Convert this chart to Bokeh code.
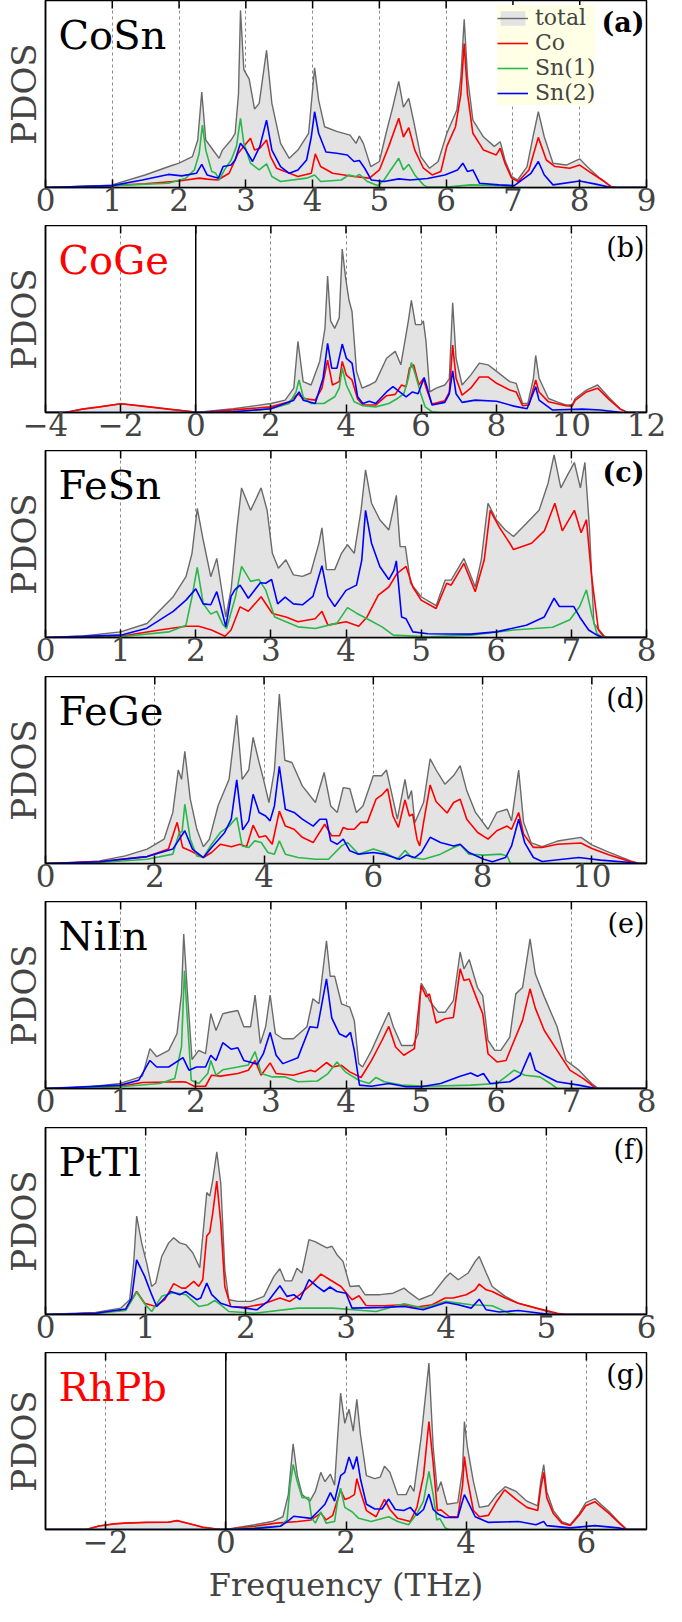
import math
from bokeh.plotting import figure
from bokeh.layouts import column
from bokeh.models import Range1d, Span, Label, Legend, LegendItem, FixedTicker
from bokeh.embed import file_html
from bokeh.resources import INLINE

FONT = "DejaVu Serif"

# ---------------- data: (frequency THz, PDOS arb. units) ----------------
a_total = [(0,0),(0.5,0.003),(1.0,0.014),(1.49,0.067),(1.87,0.115),(2.0,0.13),(2.2,0.165),(2.28,0.254),(2.34,0.51),(2.4,0.254),(2.49,0.21),(2.6,0.156),(2.65,0.2),(2.78,0.254),(2.84,0.29),(2.89,0.5),(2.92,0.947),(2.97,0.63),(3.05,0.58),(3.13,0.42),(3.2,0.45),(3.31,0.733),(3.39,0.45),(3.52,0.236),(3.65,0.156),(3.78,0.2),(3.94,0.29),(3.99,0.485),(4.03,0.64),(4.09,0.467),(4.18,0.325),(4.36,0.3),(4.56,0.28),(4.65,0.236),(4.7,0.275),(4.76,0.236),(4.87,0.112),(5.0,0.139),(5.1,0.29),(5.2,0.43),(5.29,0.568),(5.36,0.43),(5.44,0.476),(5.51,0.36),(5.62,0.165),(5.75,0.103),(5.88,0.139),(6.01,0.29),(6.16,0.414),(6.22,0.59),(6.27,0.9),(6.32,0.59),(6.4,0.36),(6.56,0.27),(6.72,0.22),(6.81,0.245),(6.88,0.147),(6.98,0.059),(7.07,0.04),(7.21,0.11),(7.3,0.27),(7.38,0.405),(7.47,0.27),(7.6,0.13),(7.8,0.12),(8.0,0.153),(8.11,0.112),(8.3,0.05),(8.47,0.005),(8.55,0),(9,0)]
a_co = [(0,0),(1.0,0.01),(1.49,0.02),(2.0,0.035),(2.3,0.05),(2.42,0.045),(2.58,0.04),(2.75,0.076),(2.88,0.18),(2.97,0.22),(3.07,0.263),(3.13,0.2),(3.21,0.21),(3.31,0.254),(3.37,0.165),(3.46,0.103),(3.78,0.059),(3.98,0.076),(4.04,0.18),(4.12,0.112),(4.3,0.076),(4.62,0.059),(4.85,0.05),(5.0,0.094),(5.14,0.22),(5.29,0.37),(5.36,0.27),(5.44,0.32),(5.53,0.2),(5.66,0.103),(5.79,0.067),(5.92,0.085),(6.01,0.22),(6.14,0.325),(6.22,0.5),(6.27,0.77),(6.32,0.5),(6.4,0.29),(6.56,0.2),(6.75,0.174),(6.81,0.21),(6.88,0.13),(6.98,0.05),(7.08,0.032),(7.24,0.094),(7.38,0.268),(7.5,0.147),(7.63,0.112),(7.85,0.103),(8.0,0.12),(8.18,0.076),(8.37,0.032),(8.47,0.005),(8.55,0),(9,0)]
a_sn1 = [(0,0),(1.0,0.01),(1.84,0.023),(2.1,0.05),(2.23,0.094),(2.3,0.18),(2.35,0.334),(2.4,0.2),(2.49,0.085),(2.55,0.076),(2.6,0.04),(2.68,0.094),(2.78,0.147),(2.86,0.22),(2.92,0.37),(2.97,0.236),(3.07,0.13),(3.2,0.094),(3.31,0.126),(3.39,0.059),(3.52,0.032),(3.91,0.05),(4.03,0.067),(4.12,0.032),(4.43,0.04),(4.54,0.067),(4.65,0.059),(4.7,0.07),(4.82,0.032),(4.98,0.01),(5.07,0.04),(5.17,0.094),(5.29,0.156),(5.36,0.094),(5.44,0.124),(5.53,0.067),(5.66,0.014),(5.72,0.002),(6.01,0.002),(6.37,0.014),(6.82,0.01),(7.05,0),(9,0)]
a_sn2 = [(0,0),(1.0,0.01),(1.45,0.04),(1.84,0.07),(2.04,0.062),(2.26,0.076),(2.34,0.124),(2.42,0.067),(2.59,0.05),(2.66,0.112),(2.78,0.12),(2.84,0.147),(2.92,0.236),(3.0,0.2),(3.1,0.139),(3.21,0.22),(3.31,0.36),(3.39,0.2),(3.52,0.112),(3.65,0.076),(3.78,0.094),(3.91,0.147),(3.98,0.27),(4.03,0.405),(4.09,0.29),(4.2,0.19),(4.36,0.183),(4.52,0.174),(4.62,0.139),(4.7,0.144),(4.78,0.103),(4.88,0.04),(5.07,0.032),(5.29,0.046),(5.46,0.04),(5.72,0.048),(5.98,0.067),(6.17,0.094),(6.25,0.13),(6.32,0.085),(6.4,0.094),(6.5,0.023),(6.79,0.014),(7.02,0.01),(7.27,0.076),(7.38,0.139),(7.47,0.067),(7.6,0.014),(8.0,0.035),(8.24,0.018),(8.47,0),(9,0)]

b_total = [(-4,0),(-3.48,0),(-3.02,0.018),(-2.56,0.03),(-1.99,0.047),(-1.41,0.034),(-0.72,0.018),(-0.09,0.004),(0,0),(1.0,0.02),(2.0,0.048),(2.38,0.066),(2.61,0.13),(2.72,0.38),(2.86,0.165),(3.07,0.147),(3.3,0.273),(3.44,0.45),(3.51,0.73),(3.59,0.49),(3.7,0.45),(3.82,0.506),(3.9,0.874),(3.99,0.72),(4.08,0.6),(4.16,0.54),(4.28,0.22),(4.43,0.13),(4.62,0.147),(4.79,0.165),(5.08,0.29),(5.31,0.327),(5.46,0.255),(5.66,0.49),(5.74,0.6),(5.85,0.47),(6.0,0.47),(6.06,0.49),(6.13,0.38),(6.23,0.11),(6.4,0.13),(6.63,0.147),(6.75,0.18),(6.84,0.587),(6.93,0.29),(7.09,0.147),(7.32,0.2),(7.55,0.264),(7.78,0.255),(8.01,0.22),(8.36,0.165),(8.53,0.156),(8.7,0.048),(8.84,0.048),(8.99,0.183),(9.05,0.305),(9.14,0.183),(9.39,0.075),(9.62,0.057),(9.85,0.04),(10.02,0.04),(10.1,0.075),(10.4,0.12),(10.7,0.147),(11.0,0.08),(11.3,0.02),(11.5,0),(12,0)]
b_co = [(-4,0),(-3.48,0),(-3.02,0.018),(-2.56,0.03),(-1.99,0.047),(-1.41,0.034),(-0.72,0.018),(-0.09,0.004),(0,0),(1,0.014),(2,0.03),(2.49,0.057),(2.72,0.1),(2.86,0.075),(3.18,0.066),(3.36,0.13),(3.51,0.28),(3.64,0.147),(3.82,0.165),(3.9,0.273),(4.01,0.2),(4.16,0.174),(4.31,0.072),(4.45,0.04),(4.79,0.04),(5.08,0.09),(5.31,0.097),(5.48,0.147),(5.6,0.138),(5.69,0.237),(5.8,0.255),(5.94,0.147),(6.06,0.18),(6.17,0.11),(6.29,0.045),(6.63,0.063),(6.75,0.108),(6.84,0.36),(6.93,0.183),(7.09,0.093),(7.32,0.13),(7.55,0.19),(7.78,0.19),(8.01,0.156),(8.36,0.12),(8.53,0.11),(8.7,0.036),(8.87,0.04),(9.05,0.174),(9.14,0.11),(9.39,0.057),(9.85,0.036),(10.02,0.034),(10.1,0.065),(10.4,0.11),(10.7,0.13),(11.0,0.07),(11.3,0.018),(11.5,0),(12,0)]
b_sn1 = [(-4,0),(0,0),(1,0.004),(2,0.02),(2.49,0.048),(2.67,0.11),(2.75,0.174),(2.86,0.084),(3.07,0.048),(3.41,0.048),(3.7,0.084),(3.82,0.13),(3.9,0.237),(4.01,0.147),(4.22,0.057),(4.45,0.036),(4.79,0.03),(5.14,0.048),(5.37,0.075),(5.54,0.1),(5.66,0.183),(5.74,0.267),(5.85,0.2),(6.0,0.093),(6.11,0.03),(6.29,0.004),(6.5,0),(12,0)]
b_sn2 = [(-4,0),(0,0),(1,0.004),(2,0.02),(2.61,0.066),(2.75,0.11),(2.86,0.066),(3.18,0.048),(3.39,0.183),(3.51,0.37),(3.62,0.237),(3.76,0.237),(3.9,0.366),(4.01,0.29),(4.16,0.264),(4.31,0.084),(4.45,0.048),(4.62,0.06),(4.79,0.048),(5.08,0.11),(5.25,0.138),(5.43,0.11),(5.6,0.084),(5.77,0.11),(5.92,0.1),(6.08,0.187),(6.17,0.126),(6.29,0.04),(6.63,0.054),(6.75,0.1),(6.84,0.223),(6.93,0.1),(7.09,0.054),(7.44,0.066),(8.01,0.06),(8.47,0.034),(8.82,0.02),(9.05,0.138),(9.14,0.066),(9.5,0.013),(10.3,0.018),(10.77,0.013),(11.34,0),(12,0)]

c_total = [(0,0),(0.5,0.008),(1,0.03),(1.35,0.075),(1.7,0.218),(1.87,0.325),(1.95,0.45),(2.02,0.69),(2.1,0.52),(2.2,0.325),(2.28,0.423),(2.34,0.27),(2.4,0.11),(2.47,0.254),(2.55,0.59),(2.61,0.8),(2.73,0.68),(2.87,0.8),(2.95,0.68),(3.02,0.45),(3.1,0.37),(3.2,0.416),(3.3,0.335),(3.42,0.327),(3.53,0.345),(3.64,0.505),(3.68,0.586),(3.74,0.363),(3.85,0.363),(3.94,0.45),(4.02,0.496),(4.11,0.45),(4.2,0.68),(4.26,0.896),(4.34,0.718),(4.45,0.63),(4.57,0.575),(4.67,0.76),(4.72,0.486),(4.79,0.486),(4.86,0.29),(5.0,0.218),(5.2,0.17),(5.32,0.307),(5.4,0.307),(5.57,0.423),(5.72,0.27),(5.8,0.414),(5.89,0.718),(6.0,0.63),(6.12,0.575),(6.23,0.54),(6.4,0.61),(6.57,0.68),(6.69,0.825),(6.77,0.977),(6.86,0.8),(6.95,0.87),(7.04,0.936),(7.12,0.8),(7.18,0.936),(7.24,0.59),(7.3,0.075),(7.44,0.007),(7.5,0),(8,0)]
c_co = [(0,0),(1,0.007),(1.52,0.04),(1.87,0.06),(2.04,0.06),(2.21,0.04),(2.39,0.007),(2.47,0.04),(2.59,0.164),(2.7,0.14),(2.87,0.218),(3.02,0.128),(3.2,0.11),(3.36,0.084),(3.59,0.1),(3.68,0.14),(3.76,0.066),(4.0,0.084),(4.17,0.06),(4.28,0.11),(4.43,0.227),(4.57,0.27),(4.68,0.343),(4.8,0.38),(4.89,0.27),(5.0,0.2),(5.2,0.155),(5.34,0.29),(5.4,0.28),(5.57,0.396),(5.72,0.245),(5.84,0.414),(5.92,0.68),(6.04,0.59),(6.18,0.504),(6.23,0.47),(6.47,0.504),(6.64,0.57),(6.78,0.718),(6.88,0.57),(7.04,0.68),(7.13,0.56),(7.2,0.63),(7.27,0.325),(7.36,0.04),(7.44,0),(8,0)]
c_sn1 = [(0,0),(1,0.004),(1.64,0.03),(1.87,0.066),(1.95,0.218),(2.02,0.375),(2.1,0.18),(2.2,0.125),(2.28,0.14),(2.36,0.07),(2.41,0.048),(2.53,0.22),(2.61,0.38),(2.73,0.3),(2.84,0.31),(2.93,0.255),(3.05,0.11),(3.36,0.057),(3.59,0.048),(3.88,0.077),(4.02,0.16),(4.14,0.13),(4.28,0.1),(4.48,0.057),(4.63,0.0125),(5.09,0.004),(5.66,0.0125),(6.23,0.04),(6.75,0.055),(6.98,0.095),(7.11,0.166),(7.2,0.255),(7.27,0.125),(7.34,0.02),(7.42,0),(8,0)]
c_sn2 = [(0,0),(1,0.0125),(1.35,0.05),(1.7,0.14),(1.87,0.2),(2.0,0.26),(2.1,0.18),(2.2,0.175),(2.28,0.245),(2.34,0.155),(2.4,0.057),(2.47,0.22),(2.52,0.255),(2.59,0.28),(2.7,0.21),(2.86,0.293),(2.93,0.29),(3.01,0.31),(3.09,0.18),(3.19,0.216),(3.3,0.18),(3.42,0.175),(3.56,0.22),(3.68,0.384),(3.76,0.22),(3.85,0.166),(4.0,0.252),(4.14,0.28),(4.21,0.414),(4.26,0.68),(4.34,0.504),(4.45,0.38),(4.57,0.31),(4.64,0.36),(4.67,0.41),(4.74,0.11),(4.8,0.1),(4.89,0.03),(5.09,0.02),(5.66,0.018),(6.0,0.03),(6.4,0.066),(6.64,0.11),(6.77,0.21),(6.84,0.166),(7.03,0.166),(7.11,0.11),(7.23,0.04),(7.34,0.0125),(7.42,0),(8,0)]

d_total = [(0,0),(0.5,0.004),(0.99,0.014),(1.46,0.041),(1.86,0.077),(2.17,0.13),(2.33,0.273),(2.43,0.5),(2.49,0.45),(2.55,0.6),(2.65,0.344),(2.77,0.183),(2.89,0.09),(3.0,0.13),(3.16,0.31),(3.36,0.45),(3.5,0.793),(3.6,0.45),(3.72,0.5),(3.8,0.674),(3.91,0.54),(3.99,0.45),(4.09,0.326),(4.19,0.5),(4.28,0.906),(4.38,0.552),(4.51,0.54),(4.7,0.415),(4.94,0.326),(5.1,0.487),(5.22,0.308),(5.34,0.273),(5.45,0.406),(5.57,0.4),(5.69,0.273),(5.81,0.308),(6.0,0.469),(6.15,0.469),(6.24,0.5),(6.36,0.344),(6.44,0.237),(6.58,0.45),(6.64,0.344),(6.7,0.39),(6.76,0.218),(6.84,0.273),(6.92,0.326),(7.04,0.56),(7.15,0.5),(7.31,0.424),(7.47,0.47),(7.59,0.523),(7.71,0.39),(7.87,0.273),(8.1,0.183),(8.26,0.273),(8.45,0.29),(8.53,0.228),(8.66,0.5),(8.75,0.22),(8.89,0.11),(9.09,0.09),(9.37,0.12),(9.8,0.14),(10.0,0.1),(10.32,0.06),(10.71,0.014),(10.87,0),(11,0)]
d_co = [(0,0),(0.99,0.01),(1.86,0.037),(2.25,0.077),(2.41,0.22),(2.51,0.086),(2.65,0.068),(2.89,0.032),(3.04,0.059),(3.2,0.103),(3.4,0.09),(3.56,0.103),(3.68,0.09),(3.8,0.205),(3.91,0.14),(4.03,0.148),(4.15,0.103),(4.28,0.28),(4.39,0.2),(4.55,0.183),(4.7,0.14),(4.9,0.112),(5.11,0.21),(5.24,0.148),(5.38,0.148),(5.45,0.193),(5.53,0.183),(5.65,0.183),(5.77,0.22),(5.89,0.22),(6.05,0.344),(6.17,0.37),(6.26,0.4),(6.36,0.254),(6.46,0.193),(6.58,0.34),(6.66,0.254),(6.72,0.264),(6.8,0.13),(6.85,0.094),(6.92,0.22),(7.04,0.42),(7.15,0.33),(7.35,0.27),(7.47,0.326),(7.59,0.344),(7.71,0.237),(7.91,0.166),(8.1,0.13),(8.26,0.175),(8.45,0.2),(8.53,0.183),(8.66,0.273),(8.75,0.157),(8.93,0.086),(9.09,0.086),(9.37,0.103),(9.8,0.11),(10.0,0.08),(10.32,0.045),(10.71,0.01),(10.85,0),(11,0)]
d_sn1 = [(0,0),(0.99,0.005),(1.86,0.023),(2.33,0.05),(2.45,0.166),(2.5,0.17),(2.55,0.317),(2.65,0.13),(2.77,0.04),(2.89,0.032),(3.04,0.103),(3.2,0.166),(3.36,0.2),(3.5,0.246),(3.6,0.094),(3.72,0.086),(3.83,0.121),(3.95,0.112),(4.07,0.059),(4.19,0.05),(4.28,0.121),(4.39,0.05),(4.62,0.032),(4.94,0.023),(5.18,0.023),(5.42,0.094),(5.53,0.112),(5.73,0.05),(6.0,0.077),(6.2,0.059),(6.44,0.023),(6.58,0.07),(6.7,0.032),(6.92,0.023),(7.23,0.05),(7.47,0.086),(7.59,0.1),(7.75,0.05),(8.02,0.045),(8.34,0.05),(8.45,0.04),(8.51,0),(11,0)]
d_sn2 = [(0,0),(0.99,0.009),(1.86,0.037),(2.33,0.077),(2.55,0.175),(2.69,0.077),(2.89,0.032),(3.04,0.086),(3.28,0.166),(3.4,0.237),(3.5,0.447),(3.61,0.18),(3.72,0.228),(3.8,0.37),(3.91,0.273),(4.03,0.254),(4.11,0.228),(4.19,0.308),(4.28,0.52),(4.39,0.29),(4.55,0.273),(4.7,0.237),(4.9,0.2),(5.02,0.237),(5.14,0.237),(5.22,0.121),(5.34,0.103),(5.45,0.13),(5.57,0.068),(5.73,0.05),(6.0,0.059),(6.2,0.05),(6.48,0.023),(6.6,0.045),(6.76,0.032),(6.88,0.059),(7.04,0.14),(7.23,0.112),(7.47,0.094),(7.59,0.103),(7.75,0.059),(8.02,0.023),(8.18,0.009),(8.42,0.032),(8.53,0.094),(8.66,0.237),(8.77,0.112),(8.93,0.032),(9.09,0.011),(9.76,0.032),(10.16,0.018),(10.71,0.005),(10.85,0),(11,0)]

e_total = [(0,0),(0.5,0.005),(1,0.027),(1.29,0.066),(1.39,0.213),(1.48,0.17),(1.64,0.204),(1.75,0.293),(1.81,0.506),(1.84,0.826),(1.89,0.506),(1.95,0.155),(2.04,0.204),(2.13,0.186),(2.2,0.4),(2.27,0.31),(2.36,0.4),(2.44,0.408),(2.56,0.417),(2.64,0.33),(2.73,0.33),(2.79,0.5),(2.86,0.24),(2.93,0.33),(2.99,0.5),(3.06,0.293),(3.16,0.266),(3.3,0.266),(3.48,0.33),(3.56,0.48),(3.64,0.453),(3.74,0.79),(3.79,0.6),(3.85,0.6),(3.94,0.453),(4.05,0.435),(4.11,0.364),(4.17,0.133),(4.22,0.115),(4.34,0.204),(4.48,0.33),(4.57,0.408),(4.63,0.33),(4.74,0.23),(4.89,0.23),(4.96,0.293),(5.0,0.563),(5.06,0.524),(5.11,0.47),(5.23,0.408),(5.32,0.408),(5.43,0.47),(5.52,0.73),(5.57,0.64),(5.64,0.69),(5.75,0.54),(5.82,0.497),(5.89,0.258),(5.98,0.204),(6.06,0.204),(6.18,0.275),(6.26,0.506),(6.35,0.54),(6.45,0.8),(6.52,0.613),(6.64,0.49),(6.81,0.33),(6.93,0.15),(7.1,0.098),(7.27,0.027),(7.36,0),(8,0)]
e_co = [(0,0),(1,0.012),(1.29,0.032),(1.81,0.036),(1.87,0.034),(1.98,0.012),(2.13,0.012),(2.21,0.071),(2.33,0.066),(2.56,0.08),(2.7,0.098),(2.79,0.15),(2.87,0.071),(2.99,0.137),(3.07,0.08),(3.3,0.071),(3.53,0.098),(3.59,0.09),(3.74,0.139),(3.82,0.115),(3.94,0.124),(4.05,0.089),(4.2,0.059),(4.34,0.15),(4.48,0.258),(4.57,0.332),(4.66,0.222),(4.77,0.178),(4.91,0.213),(5.0,0.55),(5.07,0.49),(5.11,0.506),(5.2,0.35),(5.32,0.373),(5.43,0.38),(5.52,0.64),(5.57,0.577),(5.64,0.586),(5.75,0.47),(5.82,0.4),(5.89,0.186),(6.01,0.142),(6.13,0.15),(6.24,0.258),(6.35,0.364),(6.45,0.533),(6.52,0.43),(6.64,0.31),(6.81,0.204),(6.98,0.098),(7.16,0.053),(7.33,0),(8,0)]
e_sn1 = [(0,0),(1,0.009),(1.52,0.027),(1.72,0.053),(1.81,0.222),(1.85,0.63),(1.89,0.364),(1.94,0.044),(2.04,0.027),(2.16,0.08),(2.2,0.15),(2.27,0.071),(2.36,0.1),(2.56,0.115),(2.7,0.126),(2.79,0.197),(2.87,0.08),(3.02,0.062),(3.19,0.062),(3.36,0.036),(3.62,0.04),(3.76,0.08),(3.88,0.142),(3.99,0.089),(4.17,0.044),(4.31,0.027),(4.4,0.059),(4.51,0.036),(4.74,0.018),(5.09,0.012),(5.66,0.018),(6.01,0.027),(6.24,0.098),(6.38,0.071),(6.58,0.062),(6.72,0.027),(6.81,0),(8,0)]
e_sn2 = [(0,0),(1,0.018),(1.24,0.044),(1.39,0.15),(1.48,0.115),(1.64,0.115),(1.83,0.165),(1.91,0.098),(2.01,0.115),(2.13,0.115),(2.2,0.178),(2.27,0.15),(2.36,0.245),(2.47,0.21),(2.56,0.218),(2.64,0.15),(2.73,0.14),(2.82,0.13),(2.9,0.186),(2.99,0.3),(3.07,0.178),(3.16,0.133),(3.36,0.165),(3.52,0.33),(3.62,0.325),(3.74,0.586),(3.81,0.378),(3.91,0.293),(4.0,0.275),(4.06,0.3),(4.11,0.204),(4.18,0.018),(4.34,0.012),(4.57,0.027),(4.8,0.009),(5.0,0.009),(5.26,0.027),(5.52,0.066),(5.66,0.083),(5.75,0.066),(5.83,0.08),(5.92,0.027),(6.18,0.036),(6.32,0.071),(6.45,0.192),(6.52,0.098),(6.64,0.071),(6.81,0.036),(7.1,0.018),(7.33,0),(8,0)]

f_total = [(0,0),(0.5,0.011),(0.75,0.034),(0.84,0.079),(0.88,0.275),(0.91,0.526),(0.96,0.383),(1.01,0.275),(1.06,0.15),(1.1,0.168),(1.16,0.31),(1.23,0.383),(1.28,0.41),(1.34,0.383),(1.4,0.374),(1.47,0.33),(1.54,0.25),(1.57,0.42),(1.61,0.652),(1.64,0.633),(1.67,0.72),(1.71,0.87),(1.75,0.7),(1.79,0.24),(1.83,0.079),(1.92,0.07),(2.05,0.07),(2.18,0.097),(2.28,0.204),(2.34,0.245),(2.39,0.18),(2.46,0.18),(2.51,0.247),(2.56,0.222),(2.63,0.4),(2.69,0.39),(2.76,0.37),(2.81,0.356),(2.86,0.365),(2.91,0.32),(2.97,0.284),(3.04,0.15),(3.13,0.154),(3.19,0.106),(3.34,0.106),(3.47,0.114),(3.58,0.141),(3.64,0.114),(3.73,0.079),(3.86,0.106),(3.99,0.195),(4.04,0.222),(4.12,0.186),(4.22,0.222),(4.29,0.284),(4.33,0.31),(4.4,0.222),(4.46,0.15),(4.59,0.097),(4.72,0.06),(4.9,0.034),(5.06,0.007),(5.15,0),(6,0)]
f_co = [(0,0),(0.5,0.007),(0.8,0.025),(0.91,0.123),(0.99,0.06),(1.1,0.043),(1.19,0.079),(1.28,0.165),(1.36,0.141),(1.4,0.141),(1.48,0.177),(1.53,0.15),(1.57,0.186),(1.61,0.42),(1.64,0.44),(1.67,0.544),(1.71,0.714),(1.75,0.49),(1.79,0.15),(1.85,0.043),(2.0,0.039),(2.18,0.057),(2.34,0.088),(2.44,0.07),(2.54,0.106),(2.65,0.16),(2.75,0.216),(2.84,0.186),(2.95,0.15),(3.06,0.079),(3.13,0.1),(3.2,0.048),(3.38,0.047),(3.58,0.052),(3.69,0.039),(3.86,0.052),(3.99,0.088),(4.07,0.088),(4.2,0.106),(4.29,0.132),(4.33,0.163),(4.4,0.132),(4.46,0.123),(4.59,0.088),(4.72,0.06),(4.9,0.034),(5.11,0.007),(5.2,0),(6,0)]
f_sn1 = [(0,0),(0.5,0.005),(0.8,0.021),(0.91,0.12),(0.99,0.057),(1.06,0.016),(1.16,0.097),(1.28,0.118),(1.4,0.106),(1.53,0.043),(1.62,0.052),(1.69,0.075),(1.75,0.052),(1.83,0.016),(2.09,0.007),(2.52,0.034),(2.87,0.034),(3.17,0.021),(3.3,0.016),(3.58,0.057),(3.77,0.034),(3.99,0.07),(4.25,0.052),(4.46,0.047),(4.63,0.007),(4.7,0),(6,0)]
f_sn2 = [(0,0),(0.5,0.007),(0.8,0.029),(0.86,0.088),(0.91,0.292),(0.99,0.204),(1.06,0.106),(1.11,0.043),(1.19,0.088),(1.25,0.123),(1.34,0.106),(1.4,0.123),(1.51,0.079),(1.55,0.088),(1.61,0.168),(1.66,0.106),(1.75,0.06),(1.85,0.043),(2.0,0.034),(2.11,0.025),(2.22,0.07),(2.34,0.154),(2.41,0.097),(2.48,0.106),(2.54,0.079),(2.63,0.186),(2.71,0.15),(2.78,0.123),(2.84,0.147),(2.91,0.123),(3.0,0.114),(3.06,0.034),(3.38,0.038),(3.58,0.043),(3.77,0.025),(4.0,0.064),(4.12,0.052),(4.25,0.034),(4.33,0.082),(4.4,0.025),(4.53,0.013),(4.72,0.021),(4.94,0.007),(5.05,0),(6,0)]

g_total = [(-3,0),(-2.32,0),(-2.11,0.02),(-1.86,0.032),(-1.68,0.036),(-1.32,0.04),(-0.96,0.041),(-0.81,0.05),(-0.6,0.032),(-0.38,0.013),(-0.09,0),(0,0),(0.48,0.027),(0.77,0.045),(0.95,0.072),(1.04,0.197),(1.12,0.484),(1.19,0.304),(1.27,0.197),(1.4,0.16),(1.49,0.215),(1.58,0.323),(1.65,0.27),(1.74,0.313),(1.81,0.25),(1.86,0.52),(1.91,0.77),(1.98,0.6),(2.05,0.68),(2.12,0.556),(2.18,0.735),(2.24,0.538),(2.34,0.304),(2.48,0.287),(2.57,0.296),(2.64,0.358),(2.73,0.323),(2.86,0.197),(3.0,0.197),(3.07,0.25),(3.13,0.215),(3.25,0.52),(3.38,0.94),(3.45,0.466),(3.52,0.215),(3.58,0.27),(3.68,0.143),(3.86,0.152),(3.94,0.34),(3.97,0.61),(4.02,0.466),(4.12,0.27),(4.22,0.125),(4.37,0.134),(4.51,0.197),(4.65,0.242),(4.83,0.215),(5.01,0.16),(5.19,0.134),(5.24,0.27),(5.29,0.367),(5.34,0.215),(5.45,0.107),(5.59,0.045),(5.73,0.027),(5.88,0.09),(5.99,0.152),(6.14,0.175),(6.24,0.143),(6.38,0.1),(6.56,0.036),(6.67,0),(7,0)]
g_co = [(-3,0),(-2.32,0),(-2.11,0.02),(-1.86,0.032),(-1.68,0.036),(-1.32,0.04),(-0.96,0.041),(-0.81,0.05),(-0.6,0.032),(-0.38,0.013),(-0.09,0),(0,0),(0.48,0.018),(0.84,0.036),(1.2,0.045),(1.42,0.054),(1.58,0.093),(1.67,0.054),(1.78,0.08),(1.91,0.224),(1.98,0.17),(2.06,0.18),(2.14,0.197),(2.18,0.287),(2.24,0.215),(2.34,0.107),(2.5,0.072),(2.64,0.17),(2.73,0.113),(2.86,0.063),(3.07,0.045),(3.18,0.125),(3.29,0.304),(3.38,0.61),(3.45,0.376),(3.52,0.107),(3.58,0.111),(3.72,0.072),(3.86,0.072),(3.94,0.25),(3.97,0.412),(4.02,0.287),(4.12,0.107),(4.22,0.072),(4.37,0.08),(4.51,0.16),(4.64,0.224),(4.83,0.17),(5.01,0.125),(5.19,0.107),(5.24,0.233),(5.29,0.323),(5.34,0.18),(5.45,0.09),(5.59,0.036),(5.73,0.023),(5.88,0.08),(5.99,0.134),(6.14,0.157),(6.24,0.129),(6.38,0.09),(6.56,0.032),(6.67,0),(7,0)]
g_sn1 = [(-3,0),(0,0),(0.48,0.009),(0.91,0.02),(1.02,0.054),(1.07,0.25),(1.12,0.367),(1.19,0.27),(1.27,0.18),(1.38,0.18),(1.43,0.063),(1.49,0.036),(1.58,0.1),(1.67,0.036),(1.81,0.045),(1.86,0.16),(1.91,0.233),(1.98,0.125),(2.1,0.1),(2.21,0.063),(2.42,0.045),(2.71,0.072),(2.86,0.045),(3.04,0.027),(3.18,0.09),(3.29,0.16),(3.38,0.328),(3.45,0.197),(3.51,0.054),(3.56,0.063),(3.65,0.009),(3.72,0),(7,0)]
g_sn2 = [(-3,0),(0,0),(0.48,0.005),(0.91,0.018),(1.06,0.054),(1.13,0.075),(1.42,0.063),(1.53,0.1),(1.65,0.143),(1.74,0.208),(1.81,0.16),(1.91,0.304),(1.98,0.323),(2.05,0.41),(2.12,0.34),(2.18,0.412),(2.24,0.287),(2.34,0.143),(2.48,0.116),(2.6,0.116),(2.71,0.172),(2.82,0.113),(2.96,0.107),(3.07,0.125),(3.18,0.08),(3.29,0.113),(3.38,0.2),(3.45,0.113),(3.54,0.086),(3.65,0.068),(3.86,0.068),(3.97,0.197),(4.04,0.149),(4.15,0.072),(4.37,0.04),(4.87,0.045),(5.16,0.027),(5.29,0.045),(5.34,0.022),(5.73,0.009),(6.14,0.022),(6.53,0.009),(6.67,0),(7,0)]

names = ["CoSn", "CoGe", "FeSn", "FeGe", "NiIn", "PtTl", "RhPb"]
name_colors = ["black", "red", "black", "black", "black", "black", "red"]
tags = ["(a)", "(b)", "(c)", "(d)", "(e)", "(f)", "(g)"]
tag_bold = [True, False, True, False, False, False, False]
x_lo = [0, -4, 0, 0, 0, 0, -3]
x_hi = [9, 12, 8, 11, 8, 6, 7]
ticks_a = [0, 1, 2, 3, 4, 5, 6, 7, 8, 9]
ticks_b = [-4, -2, 0, 2, 4, 6, 8, 10, 12]
ticks_c = [0, 1, 2, 3, 4, 5, 6, 7, 8]
ticks_d = [0, 2, 4, 6, 8, 10]
ticks_e = [0, 1, 2, 3, 4, 5, 6, 7, 8]
ticks_f = [0, 1, 2, 3, 4, 5, 6]
ticks_g = [-2, 0, 2, 4, 6]
tick_sets = [ticks_a, ticks_b, ticks_c, ticks_d, ticks_e, ticks_f, ticks_g]
series = [
    (a_total, a_co, a_sn1, a_sn2),
    (b_total, b_co, b_sn1, b_sn2),
    (c_total, c_co, c_sn1, c_sn2),
    (d_total, d_co, d_sn1, d_sn2),
    (e_total, e_co, e_sn1, e_sn2),
    (f_total, f_co, f_sn1, f_sn2),
    (g_total, g_co, g_sn1, g_sn2),
]
legend_labels = ["total", "Co", "Sn(1)", "Sn(2)"]
has_zero_line = [False, True, False, False, False, False, True]

fig_heights = [225, 225, 226, 225, 226, 225, 254]
FRAME_H = 187

TOTAL_LINE = "#6a6a6a"
TOTAL_FILL = "#e3e3e3"
C_RED = "#ff0000"
C_GREEN = "#2ab84a"
C_BLUE = "#0000ff"


def xy(pts):
    return [p[0] for p in pts], [p[1] for p in pts]


def fmt(t):
    return ("\u2212%d" % -t) if t < 0 else "%d" % t


figs = []
for i in range(7):
    H = fig_heights[i]
    p = figure(width=666, height=H, x_range=Range1d(x_lo[i], x_hi[i]),
               y_range=Range1d(0, 1), output_backend="svg", toolbar_location=None,
               min_border_left=42, min_border_right=20, min_border_top=0,
               min_border_bottom=H - FRAME_H)
    p.outline_line_color = "black"
    p.outline_line_width = 1.5
    p.background_fill_color = "white"

    ticks = tick_sets[i]
    p.xaxis.ticker = FixedTicker(ticks=ticks)
    p.xaxis.major_label_overrides = {t: fmt(t) for t in ticks}
    p.xaxis.major_label_text_font = FONT
    p.xaxis.major_label_text_font_size = "31px"
    p.xaxis.major_label_standoff = 0
    p.xaxis.major_tick_in = 8
    p.xaxis.major_tick_out = 0
    p.xaxis.major_tick_line_width = 1.5
    p.xaxis.minor_tick_line_color = None
    p.xaxis.axis_line_width = 1.5

    p.yaxis.ticker = FixedTicker(ticks=[])
    p.yaxis.minor_tick_line_color = None
    p.yaxis.major_tick_line_color = None
    p.yaxis.axis_line_width = 1.5
    p.yaxis.axis_label = "PDOS"
    p.yaxis.axis_label_text_font = FONT
    p.yaxis.axis_label_text_font_size = "34px"
    p.yaxis.axis_label_text_font_style = "normal"
    p.yaxis.axis_label_standoff = 2

    p.xgrid.grid_line_color = "#8a8a8a"
    p.xgrid.grid_line_dash = "3 3"
    p.xgrid.grid_line_width = 1
    p.ygrid.visible = False

    if has_zero_line[i]:
        p.add_layout(Span(location=0, dimension="height", line_color="black", line_width=1.5))

    tot, co, s1, s2 = series[i]
    tx, ty = xy(tot)
    r_fill = p.varea(x=tx, y1=[0] * len(tx), y2=ty, fill_color=TOTAL_FILL)
    r_tot = p.line(tx, ty, line_color=TOTAL_LINE, line_width=1.4)
    cx, cy = xy(co)
    r_co = p.line(cx, cy, line_color=C_RED, line_width=1.6)
    gx, gy = xy(s1)
    r_s1 = p.line(gx, gy, line_color=C_GREEN, line_width=1.6)
    bx, by = xy(s2)
    r_s2 = p.line(bx, by, line_color=C_BLUE, line_width=1.6)

    # inward ticks on top edge
    inner = [t for t in ticks if x_lo[i] < t < x_hi[i]]
    p.ray(x=inner, y=[1] * len(inner), length=8, length_units="screen",
          angle=-math.pi / 2, line_color="black", line_width=1.5)

    p.add_layout(Label(x=x_lo[i], y=1, text=names[i], text_color=name_colors[i],
                       text_font=FONT, text_font_size="40px", text_baseline="top",
                       text_align="left", x_offset=13, y_offset=-11))
    p.add_layout(Label(x=x_hi[i], y=1, text=tags[i], text_color="black",
                       text_font=FONT, text_font_size="27px",
                       text_font_style="bold" if tag_bold[i] else "normal",
                       text_baseline="top", text_align="right", x_offset=-2, y_offset=-6))

    if i == 0:
        items = [LegendItem(label=legend_labels[0], renderers=[r_fill, r_tot]),
                 LegendItem(label=legend_labels[1], renderers=[r_co]),
                 LegendItem(label=legend_labels[2], renderers=[r_s1]),
                 LegendItem(label=legend_labels[3], renderers=[r_s2])]
        leg = Legend(items=items, location=(452, 82), label_text_font=FONT,
                     label_text_font_size="22px", background_fill_color="#ffffe6",
                     background_fill_alpha=1.0, border_line_color=None, padding=3,
                     spacing=0, glyph_width=31, glyph_height=18, label_standoff=7,
                     margin=0, label_height=22)
        p.add_layout(leg)

    if i == 6:
        p.xaxis.axis_label = "Frequency (THz)"
        p.xaxis.axis_label_text_font = FONT
        p.xaxis.axis_label_text_font_size = "32px"
        p.xaxis.axis_label_text_font_style = "normal"
        p.xaxis.axis_label_standoff = 10

    figs.append(p)

layout = column(*figs, spacing=0)
open("out.html", "w").write(file_html(layout, INLINE))
